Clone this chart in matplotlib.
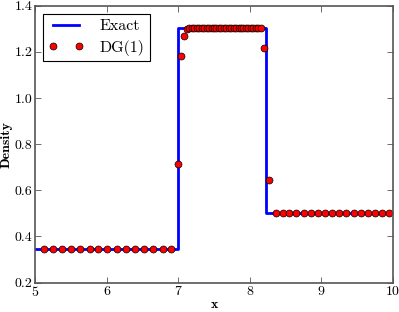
import matplotlib
matplotlib.use("Agg")
import matplotlib.pyplot as plt

plt.rcParams['font.family'] = 'serif'
plt.rcParams['font.serif'] = ['cmr10', 'DejaVu Serif']
plt.rcParams['mathtext.fontset'] = 'cm'
plt.rcParams['axes.formatter.use_mathtext'] = True
plt.rcParams['xtick.direction'] = 'in'
plt.rcParams['ytick.direction'] = 'in'
plt.rcParams['xtick.top'] = True
plt.rcParams['ytick.right'] = True

# exact solution (piecewise constant)
exact_x = [5.0, 6.995, 6.995, 8.22, 8.22, 10.0]
exact_y = [0.345, 0.345, 1.304, 1.304, 0.5, 0.5]

# DG(1) cell values
dg_x = [5.12, 5.25, 5.37, 5.50, 5.63, 5.76, 5.88, 6.01, 6.14, 6.27,
        6.39, 6.52, 6.65, 6.78, 6.90,
        6.99, 7.04, 7.08, 7.12,
        7.15, 7.19, 7.22, 7.26, 7.29, 7.33, 7.36, 7.40, 7.43, 7.47,
        7.50, 7.53, 7.57, 7.60, 7.64, 7.67, 7.71, 7.74, 7.78, 7.81,
        7.85, 7.88, 7.91, 7.95, 7.98, 8.02, 8.05, 8.09, 8.12, 8.16,
        8.20, 8.27,
        8.36, 8.46, 8.55, 8.65, 8.75, 8.85, 8.95, 9.05, 9.15, 9.25,
        9.35, 9.45, 9.55, 9.65, 9.75, 9.85, 9.95]
dg_y = [0.345] * 15 + \
       [0.715, 1.18, 1.27, 1.30] + \
       [1.305] * 30 + \
       [1.215, 0.645] + \
       [0.5] * 17

fig = plt.figure(figsize=(3.99, 3.12), dpi=100)
ax = fig.add_axes([0.088, 0.094, 0.897, 0.888])

ax.plot(exact_x, exact_y, color='#0000ff', lw=2, label='Exact')
ax.plot(dg_x, dg_y, 'o', color='red', mec='black', mew=0.5, ms=5, label='DG(1)')

ax.set_xlim(5, 10)
ax.set_ylim(0.2, 1.4)
ax.set_xticks([5, 6, 7, 8, 9, 10])
ax.set_yticks([0.2, 0.4, 0.6, 0.8, 1.0, 1.2, 1.4])
ax.set_yticklabels(['0.2', '0.4', '0.6', '0.8', '1.0', '1.2', '1.4'])
ax.tick_params(labelsize=10, length=4, width=0.6, color='#555555', pad=2)
for s in ax.spines.values():
    s.set_linewidth(1.2)
    s.set_color('#555555')

ax.set_xlabel('x', fontfamily='cmb10', fontsize=10, labelpad=0)
ax.set_ylabel('Density', fontfamily='cmb10', fontsize=10, labelpad=1)

leg = ax.legend(loc='upper left', numpoints=2, fontsize=11.5, fancybox=False,
                edgecolor='black', framealpha=1, borderpad=0.35,
                handlelength=2.2, handletextpad=1.0, labelspacing=0.4)
leg.get_frame().set_linewidth(0.8)

fig.savefig('out.png', dpi=100)
